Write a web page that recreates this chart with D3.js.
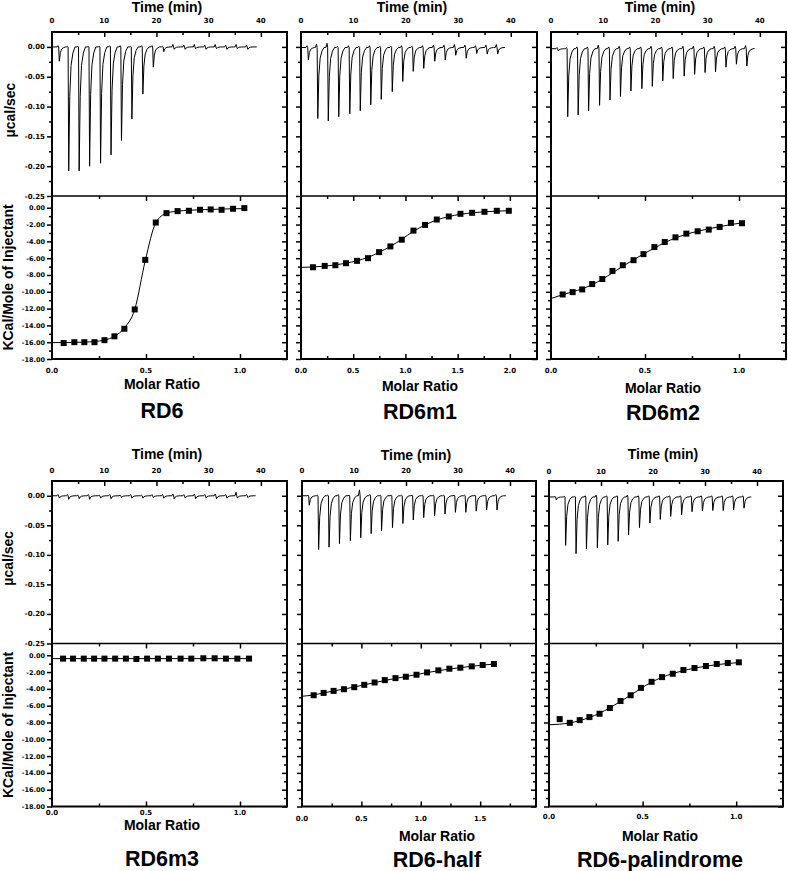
<!DOCTYPE html>
<html><head><meta charset="utf-8">
<script src="https://cdn.jsdelivr.net/npm/d3@7"></script>
<style>body{margin:0;background:#fff}</style>
</head><body>
<svg id="c" width="788" height="871" xmlns="http://www.w3.org/2000/svg"></svg>
<script>
// ---------- data ----------
const panelNames = ["RD6", "RD6m1", "RD6m2", "RD6m3", "RD6-half", "RD6-palindrome"];
const injectionTimes = [1.3, 3.1, 5.1, 7.1, 9.2, 11.2, 13.2, 15.2, 17.3, 19.3, 21.3, 23.3, 25.4, 27.4, 29.4, 31.4, 33.4, 35.4, 37.4];
const traceEnd = [39.2, 38.9, 39.0, 39.0, 39.2, 38.9];
const traceBaseline = [0.0, -0.001, -0.003, 0.0, 0.0, -0.002];

const peaksRD6 = [-0.024, -0.208, -0.208, -0.200, -0.195, -0.181, -0.157, -0.121, -0.079, -0.034, -0.008, -0.004, -0.004, -0.003, -0.004, -0.003, -0.004, -0.003, -0.004];
const peaksRD6m1 = [-0.021, -0.119, -0.123, -0.116, -0.111, -0.106, -0.096, -0.087, -0.074, -0.057, -0.040, -0.035, -0.023, -0.021, -0.013, -0.018, -0.010, -0.011, -0.011];
const peaksRD6m2 = [-0.004, -0.114, -0.111, -0.104, -0.095, -0.086, -0.080, -0.071, -0.067, -0.063, -0.054, -0.050, -0.046, -0.043, -0.040, -0.039, -0.031, -0.026, -0.029];
const peaksRD6m3 = [-0.004, -0.006, -0.005, -0.006, -0.004, -0.005, -0.003, -0.004, -0.004, -0.003, -0.004, -0.005, -0.004, -0.005, -0.004, -0.005, -0.004, -0.004, -0.003];
const peaksRD6half = [-0.016, -0.091, -0.087, -0.081, -0.076, -0.071, -0.064, -0.059, -0.054, -0.047, -0.041, -0.037, -0.034, -0.031, -0.028, -0.028, -0.026, -0.024, -0.024];
const peaksRD6pal = [-0.005, -0.082, -0.096, -0.088, -0.086, -0.081, -0.075, -0.064, -0.052, -0.044, -0.038, -0.033, -0.030, -0.025, -0.024, -0.023, -0.023, -0.022, -0.019];

const blipsRD6 = [0.002, 0.001, 0.001, 0.001, 0.001, 0.002, 0.002, 0.001, 0.002, 0.002, 0.001, 0.004, 0.003, 0.004, 0.003, 0.004, 0.003, 0.004, 0.003];
const blipsRD6m1 = [0.003, 0.006, 0.007, 0.002, 0.003, 0.002, 0.003, 0.002, 0.002, 0.003, 0.002, 0.003, 0.004, 0.004, 0.005, 0.004, 0.003, 0.004, 0.005];
const blipsRD6m2 = [0.002, 0.002, 0.003, 0.003, 0.006, 0.003, 0.004, 0.003, 0.003, 0.004, 0.003, 0.003, 0.004, 0.004, 0.003, 0.004, 0.003, 0.004, 0.005];
const blipsRD6m3 = [0.002, 0.002, 0.001, 0.002, 0.001, 0.002, 0.001, 0.002, 0.001, 0.002, 0.002, 0.003, 0.002, 0.003, 0.002, 0.003, 0.002, 0.006, 0.002];
const blipsRD6half = [0.001, 0.001, 0.001, 0.002, 0.001, 0.010, 0.002, 0.001, 0.001, 0.001, 0.001, 0.001, 0.001, 0.001, 0.001, 0.001, 0.001, 0.001, 0.002];
const blipsRD6pal = [0.001, 0.001, 0.001, 0.002, 0.003, 0.002, 0.002, 0.003, 0.002, 0.002, 0.002, 0.002, 0.002, 0.002, 0.002, 0.002, 0.002, 0.002, 0.002];

const ratioRD6 = [0.062, 0.119, 0.172, 0.226, 0.279, 0.332, 0.385, 0.440, 0.496, 0.552, 0.609, 0.668, 0.728, 0.787, 0.844, 0.902, 0.963, 1.023];
const heatRD6 = [-16.1, -16.0, -16.0, -16.0, -15.76, -15.3, -14.4, -12.1, -6.2, -1.76, -0.64, -0.4, -0.36, -0.24, -0.2, -0.24, -0.12, -0.04];
const fitRD6 = [[0, -16.05], [0.062, -16.04], [0.119, -16.02], [0.172, -15.99], [0.226, -15.92], [0.279, -15.75], [0.332, -15.3], [0.385, -14.3], [0.44, -12.1], [0.496, -6.3], [0.552, -1.8], [0.609, -0.65], [0.668, -0.4], [0.728, -0.3], [0.787, -0.24], [0.844, -0.2], [0.902, -0.16], [0.963, -0.12], [1.023, -0.1]];

const ratioRD6m1 = [0.115, 0.227, 0.329, 0.431, 0.537, 0.642, 0.748, 0.856, 0.965, 1.077, 1.188, 1.300, 1.415, 1.527, 1.639, 1.757, 1.875, 1.990];
const heatRD6m1 = [-7.08, -6.92, -6.84, -6.6, -6.32, -6.0, -5.28, -4.6, -3.8, -2.72, -2.04, -1.4, -1.04, -0.72, -0.6, -0.48, -0.36, -0.36];
const fitRD6m1 = [[0, -7.1], [0.115, -7.05], [0.227, -6.95], [0.329, -6.8], [0.431, -6.6], [0.537, -6.3], [0.642, -5.9], [0.748, -5.3], [0.856, -4.6], [0.965, -3.75], [1.077, -2.8], [1.188, -2.05], [1.3, -1.45], [1.415, -1.05], [1.527, -0.78], [1.639, -0.6], [1.757, -0.48], [1.875, -0.4], [1.99, -0.35]];

const ratioRD6m2 = [0.062, 0.115, 0.166, 0.219, 0.273, 0.327, 0.382, 0.439, 0.492, 0.550, 0.605, 0.662, 0.720, 0.780, 0.839, 0.897, 0.957, 1.016];
const heatRD6m2 = [-10.32, -10.04, -9.72, -9.08, -8.48, -7.52, -6.84, -6.24, -5.52, -4.68, -4.08, -3.52, -3.08, -2.8, -2.6, -2.28, -1.8, -1.84];
const fitRD6m2 = [[0, -10.8], [0.062, -10.35], [0.115, -10.0], [0.166, -9.65], [0.219, -9.15], [0.273, -8.5], [0.327, -7.75], [0.382, -6.95], [0.439, -6.2], [0.492, -5.5], [0.55, -4.8], [0.605, -4.15], [0.662, -3.6], [0.72, -3.15], [0.78, -2.8], [0.839, -2.5], [0.897, -2.25], [0.957, -2.0], [1.016, -1.8]];

const ratioRD6m3 = [0.059, 0.112, 0.169, 0.224, 0.279, 0.336, 0.393, 0.449, 0.506, 0.563, 0.622, 0.684, 0.741, 0.805, 0.865, 0.925, 0.986, 1.048];
const heatRD6m3 = [-0.40, -0.40, -0.40, -0.40, -0.40, -0.40, -0.40, -0.44, -0.40, -0.40, -0.40, -0.40, -0.40, -0.36, -0.36, -0.40, -0.40, -0.40];
const fitRD6m3 = [[0, -0.4], [1.048, -0.4]];

const ratioRD6half = [0.098, 0.182, 0.266, 0.353, 0.440, 0.524, 0.611, 0.697, 0.787, 0.874, 0.964, 1.053, 1.148, 1.241, 1.333, 1.429, 1.521, 1.616];
const heatRD6half = [-4.76, -4.48, -4.24, -4.04, -3.8, -3.52, -3.24, -2.96, -2.72, -2.56, -2.32, -2.04, -1.8, -1.6, -1.48, -1.32, -1.16, -1.04];
const fitRD6half = [[0, -4.88], [0.098, -4.72], [0.182, -4.48], [0.266, -4.25], [0.353, -4.02], [0.44, -3.78], [0.524, -3.52], [0.611, -3.26], [0.697, -3.0], [0.787, -2.76], [0.874, -2.54], [0.964, -2.3], [1.053, -2.06], [1.148, -1.84], [1.241, -1.64], [1.333, -1.47], [1.429, -1.31], [1.521, -1.17], [1.616, -1.05]];

const ratioRD6pal = [0.057, 0.111, 0.164, 0.216, 0.270, 0.325, 0.382, 0.436, 0.491, 0.548, 0.604, 0.661, 0.718, 0.777, 0.838, 0.896, 0.955, 1.014];
const heatRD6pal = [-7.6, -8.04, -7.72, -7.36, -6.96, -6.28, -5.44, -4.76, -3.88, -3.16, -2.6, -2.2, -1.76, -1.52, -1.28, -1.04, -0.92, -0.84];
const fitRD6pal = [[0, -8.28], [0.057, -8.2], [0.111, -8.05], [0.164, -7.78], [0.216, -7.4], [0.27, -6.9], [0.325, -6.25], [0.382, -5.5], [0.436, -4.75], [0.491, -3.95], [0.548, -3.2], [0.604, -2.62], [0.661, -2.18], [0.718, -1.82], [0.777, -1.54], [0.838, -1.3], [0.896, -1.12], [0.955, -0.98], [1.014, -0.87]];

const molarMax = [1.25, 2.26, 1.25, 1.25, 1.97, 1.25];
const timeTicks = [0, 10, 20, 30, 40];
const timeMinor = [5, 15, 25, 35, 45];
const heatTicks = [0, -0.05, -0.10, -0.15, -0.20, -0.25];
const heatMinor = [-0.025, -0.075, -0.125, -0.175, -0.225];
const enthTicks = [0, -2, -4, -6, -8, -10, -12, -14, -16, -18];
const enthMinor = [-1, -3, -5, -7, -9, -11, -13, -15, -17];
const molarTicks = [0, 0.5, 1.0, 1.5, 2.0];
const molarMinor = [0.25, 0.75, 1.25, 1.75, 2.25];

// ---------- layout ----------
const peaks = [peaksRD6, peaksRD6m1, peaksRD6m2, peaksRD6m3, peaksRD6half, peaksRD6pal];
const blips = [blipsRD6, blipsRD6m1, blipsRD6m2, blipsRD6m3, blipsRD6half, blipsRD6pal];
const ratios = [ratioRD6, ratioRD6m1, ratioRD6m2, ratioRD6m3, ratioRD6half, ratioRD6pal];
const heats = [heatRD6, heatRD6m1, heatRD6m2, heatRD6m3, heatRD6half, heatRD6pal];
const fits = [fitRD6, fitRD6m1, fitRD6m2, fitRD6m3, fitRD6half, fitRD6pal];

const L = [
  {l: 52, r: 287, top: 32, mid: 196, bot: 359, tt: 167, ttY: 12, tlY: 23, mtY: 373, mX: 162, mY: 389, nY: 418, yl: true},
  {l: 301, r: 537, top: 32, mid: 196, bot: 359, tt: 412, ttY: 12, tlY: 23, mtY: 373, mX: 420, mY: 391, nY: 418.5},
  {l: 551, r: 786, top: 32, mid: 196, bot: 359, tt: 660, ttY: 12, tlY: 23, mtY: 373, mX: 663, mY: 393, nY: 420},
  {l: 52, r: 287, top: 481, mid: 643.5, bot: 806.5, tt: 167, ttY: 459, tlY: 473, mtY: 815, mX: 162, mY: 830, nY: 865.5, yl: true},
  {l: 302, r: 536, top: 481, mid: 643.5, bot: 806.5, tt: 416, ttY: 460, tlY: 473, mtY: 820.5, mX: 437, mY: 840.5, nY: 866.5},
  {l: 549, r: 783, top: 481, mid: 643.5, bot: 806.5, tt: 663, ttY: 459, tlY: 474, mtY: 819, mX: 660, mY: 840.5, nY: 866.5}
];

const svg = d3.select("#c");
const TICKF = "'DejaVu Sans', sans-serif";
const TITF = "'Liberation Sans', Arial, sans-serif";

function styleAxis(g) {
  g.select(".domain").remove();
  g.selectAll("line").attr("stroke", "#000").attr("stroke-width", 1.5);
}

L.forEach((p, i) => {
  const g = svg.append("g");
  const xT = d3.scaleLinear([0, 45], [p.l, p.r]);
  const yH = d3.scaleLinear([-0.25, 0.025], [p.mid, p.top]);
  const xM = d3.scaleLinear([0, molarMax[i]], [p.l, p.r]);
  const yE = d3.scaleLinear([-18, 1.4], [p.bot, p.mid]);

  const clipId = "clip" + i;
  svg.append("clipPath").attr("id", clipId).append("rect")
    .attr("x", p.l).attr("y", p.top).attr("width", p.r - p.l).attr("height", p.bot - p.top);

  // thermogram trace
  const base = traceBaseline[i];
  const pts = [[0, base]];
  injectionTimes.forEach((t, k) => {
    const d = peaks[i][k], u = blips[i][k];
    pts.push([t - 0.35, base], [t - 0.15, base + u], [t - 0.02, base],
      [t + 0.1, base + d], [t + 0.3, base + 0.4 * d], [t + 0.55, base + 0.15 * d],
      [t + 0.9, base + 0.05 * d], [t + 1.3, base]);
  });
  pts.push([traceEnd[i], base]);
  g.append("path").attr("clip-path", `url(#${clipId})`)
    .attr("d", d3.line().x(d => xT(d[0])).y(d => yH(d[1]))(pts))
    .attr("fill", "none").attr("stroke", "#000").attr("stroke-width", 1);

  // fit line
  g.append("path").attr("clip-path", `url(#${clipId})`)
    .attr("d", d3.line().curve(d3.curveMonotoneX).x(d => xM(d[0])).y(d => yE(d[1]))(fits[i]))
    .attr("fill", "none").attr("stroke", "#000").attr("stroke-width", 1);

  // squares
  const sq = 6;
  g.selectAll("rect.pt").data(ratios[i]).join("rect").attr("class", "pt")
    .attr("x", (d) => xM(d) - sq / 2)
    .attr("y", (d, k) => yE(heats[i][k]) - sq / 2)
    .attr("width", sq).attr("height", sq).attr("fill", "#000");

  // axes ticks
  // left, top panel
  g.append("g").attr("transform", `translate(${p.l},0)`)
    .call(d3.axisLeft(yH).tickValues(heatTicks).tickSize(5).tickFormat("")).call(styleAxis);
  g.append("g").attr("transform", `translate(${p.l},0)`)
    .call(d3.axisLeft(yH).tickValues(heatMinor).tickSize(3).tickFormat("")).call(styleAxis);
  g.append("g").attr("transform", `translate(${p.l},0)`)
    .call(d3.axisLeft(yE).tickValues(enthTicks).tickSize(5).tickFormat("")).call(styleAxis);
  g.append("g").attr("transform", `translate(${p.l},0)`)
    .call(d3.axisLeft(yE).tickValues(enthMinor).tickSize(3).tickFormat("")).call(styleAxis);
  // right (inward)
  g.append("g").attr("transform", `translate(${p.r},0)`)
    .call(d3.axisRight(yH).tickValues(heatTicks.slice(0, 5)).tickSize(-5).tickFormat("")).call(styleAxis);
  g.append("g").attr("transform", `translate(${p.r},0)`)
    .call(d3.axisRight(yH).tickValues(heatMinor).tickSize(-3).tickFormat("")).call(styleAxis);
  g.append("g").attr("transform", `translate(${p.r},0)`)
    .call(d3.axisRight(yE).tickValues(enthTicks).tickSize(-5).tickFormat("")).call(styleAxis);
  g.append("g").attr("transform", `translate(${p.r},0)`)
    .call(d3.axisRight(yE).tickValues(enthMinor).tickSize(-3).tickFormat("")).call(styleAxis);
  // top (time), inward
  const tMaj = timeTicks.filter(v => v > 0);
  g.append("g").attr("transform", `translate(0,${p.top})`)
    .call(d3.axisTop(xT).tickValues(tMaj).tickSize(-5).tickFormat("")).call(styleAxis);
  g.append("g").attr("transform", `translate(0,${p.top})`)
    .call(d3.axisTop(xT).tickValues(timeMinor.filter(v => v < 45)).tickSize(-3).tickFormat("")).call(styleAxis);
  // molar ticks on divider (down) and bottom (up)
  const mMaj = molarTicks.filter(v => v > 0 && v < molarMax[i]);
  const mMin = molarMinor.filter(v => v < molarMax[i] - 0.01);
  g.append("g").attr("transform", `translate(0,${p.mid})`)
    .call(d3.axisBottom(xM).tickValues(mMaj).tickSize(5).tickFormat("")).call(styleAxis);
  g.append("g").attr("transform", `translate(0,${p.mid})`)
    .call(d3.axisBottom(xM).tickValues(mMin).tickSize(3).tickFormat("")).call(styleAxis);
  g.append("g").attr("transform", `translate(0,${p.bot})`)
    .call(d3.axisBottom(xM).tickValues(mMaj).tickSize(-5).tickFormat("")).call(styleAxis);
  g.append("g").attr("transform", `translate(0,${p.bot})`)
    .call(d3.axisBottom(xM).tickValues(mMin).tickSize(-3).tickFormat("")).call(styleAxis);

  // frame
  g.append("rect").attr("x", p.l).attr("y", p.top).attr("width", p.r - p.l).attr("height", p.bot - p.top)
    .attr("fill", "none").attr("stroke", "#000").attr("stroke-width", 2);
  g.append("line").attr("x1", p.l).attr("x2", p.r).attr("y1", p.mid).attr("y2", p.mid)
    .attr("stroke", "#000").attr("stroke-width", 1.6);

  // tick labels
  g.selectAll("text.tl").data(timeTicks).join("text").attr("class", "tl")
    .attr("x", d => xT(d)).attr("y", p.tlY).attr("text-anchor", "middle")
    .attr("font-family", TICKF).attr("font-weight", "bold").attr("font-size", 7).text(d => d);
  g.selectAll("text.ml").data(molarTicks.filter(v => v <= molarMax[i])).join("text").attr("class", "ml")
    .attr("x", d => xM(d)).attr("y", p.mtY).attr("text-anchor", "middle")
    .attr("font-family", TICKF).attr("font-weight", "bold").attr("font-size", 7).text(d => d3.format(".1f")(d));
  if (p.yl) {
    g.selectAll("text.hl").data(heatTicks).join("text").attr("class", "hl")
      .attr("x", p.l - 7).attr("y", d => yH(d) + 2.5).attr("text-anchor", "end")
      .attr("font-family", TICKF).attr("font-weight", "bold").attr("font-size", 7)
      .text(d => d3.format(".2f")(d).replace("−", "-"));
    g.selectAll("text.el").data(enthTicks).join("text").attr("class", "el")
      .attr("x", p.l - 7).attr("y", d => yE(d) + 2.5).attr("text-anchor", "end")
      .attr("font-family", TICKF).attr("font-weight", "bold").attr("font-size", 6.5)
      .text(d => d3.format(".2f")(d).replace("−", "-"));
    g.append("text").attr("transform", `translate(${i < 3 ? 15 : 13},${(p.top + p.mid) / 2 - 4}) rotate(-90)`)
      .attr("text-anchor", "middle").attr("font-family", TITF).attr("font-weight", "bold")
      .attr("font-size", 14).text("\u00B5cal/sec");
    g.append("text").attr("transform", `translate(${13},${(p.mid + p.bot) / 2}) rotate(-90)`)
      .attr("text-anchor", "middle").attr("font-family", TITF).attr("font-weight", "bold")
      .attr("font-size", 14).text("KCal/Mole of Injectant");
  }
  // titles
  g.append("text").attr("x", p.tt).attr("y", p.ttY).attr("text-anchor", "middle")
    .attr("font-family", TITF).attr("font-weight", "bold").attr("font-size", 14).text("Time (min)");
  g.append("text").attr("x", p.mX).attr("y", p.mY).attr("text-anchor", "middle")
    .attr("font-family", TITF).attr("font-weight", "bold").attr("font-size", 14).text("Molar Ratio");
  g.append("text").attr("x", p.mX).attr("y", p.nY).attr("text-anchor", "middle")
    .attr("font-family", TITF).attr("font-weight", "bold").attr("font-size", 21.5).text(panelNames[i]);
});
</script>
</body></html>
